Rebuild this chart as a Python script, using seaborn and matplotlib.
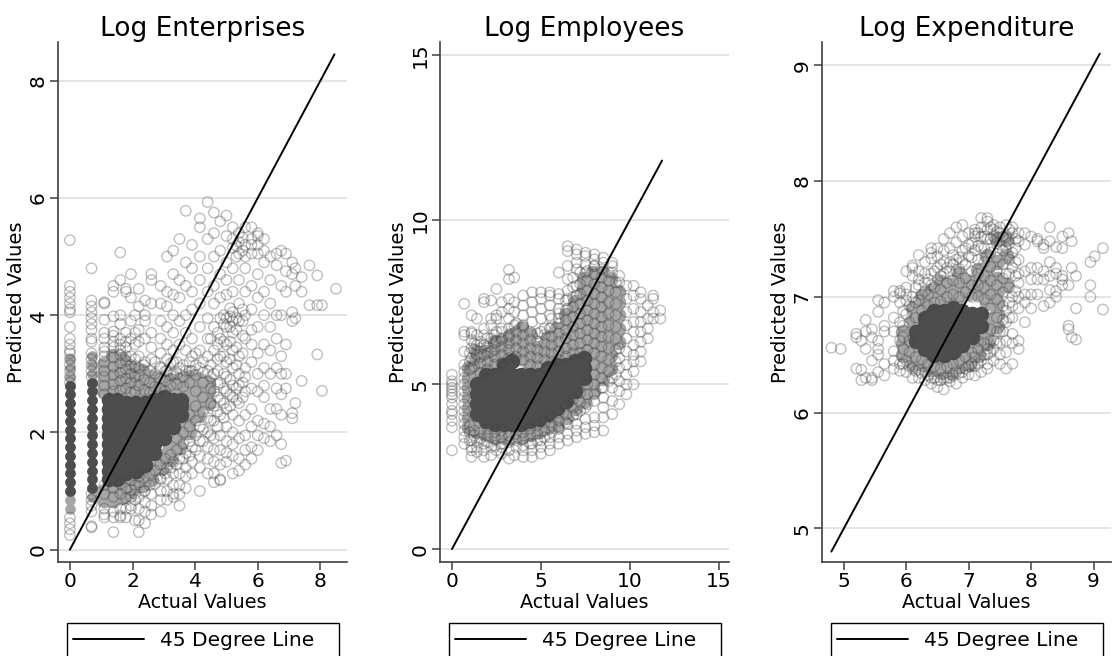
import matplotlib
matplotlib.use("Agg")
import matplotlib.pyplot as plt
from matplotlib.patches import Rectangle
import pandas as pd
import seaborn as sns

sns.set_style("white")
plt.rcParams['font.family'] = ['DejaVu Sans']
plt.rcParams['text.color'] = 'black'
plt.rcParams['axes.labelcolor'] = 'black'

titles = ["Log Enterprises", "Log Employees", "Log Expenditure"]
line_ends = [(0.0, 8.45), (0.0, 11.8), (4.8, 9.1)]
x_ticks = [[0, 2, 4, 6, 8], [0, 5, 10, 15], [5, 6, 7, 8, 9]]
y_ticks = [[0, 2, 4, 6, 8], [0, 5, 10, 15], [5, 6, 7, 8, 9]]

# Values: (actual value, [predicted values])
ent_strip_core = [
 (0.0,[1.0,1.15,1.3,1.45,1.6,1.75,1.9,2.05,2.2,2.35,2.5,2.65,2.8]),
 (.69,[1.05,1.2,1.35,1.5,1.65,1.8,1.95,2.1,2.25,2.4,2.55,2.7,2.85]),
]
ent_strip_halo = [
 (0.0,[.7,.85,1.0,2.8,2.95,3.1,3.25]),(.69,[.9,1.05,2.85,3.0,3.15,3.3]),
]
ent_core = [
 (1.25,[1.2,1.35,1.5,1.65,1.8,1.95,2.1,2.25,2.4,2.55]),
 (1.5,[1.2,1.35,1.5,1.65,1.8,1.95,2.1,2.25,2.4,2.55]),
 (1.8,[1.3,1.45,1.6,1.75,1.9,2.05,2.2,2.35,2.5]),
 (2.1,[1.35,1.5,1.65,1.8,1.95,2.1,2.25,2.4,2.5]),
 (2.4,[1.45,1.6,1.75,1.9,2.05,2.2,2.35,2.5]),
 (2.7,[1.65,1.8,1.95,2.1,2.25,2.4,2.55]),
 (3.0,[1.9,2.05,2.2,2.35,2.5,2.6]),
 (3.3,[2.1,2.25,2.4,2.55]),
 (3.55,[2.3,2.45,2.55]),
]
ent_halo = [
 (1.1,[.85,1.0,2.7,2.85,3.0,3.15]),(1.39,[.85,1.0,2.7,2.9,3.1,3.3]),
 (1.65,[.9,1.05,2.7,2.9,3.1,3.25]),(1.95,[1.0,1.15,2.7,2.9,3.1]),
 (2.3,[1.1,1.25,2.7,2.9,3.05]),(2.6,[1.2,1.4,2.75,2.95]),
 (2.9,[1.4,1.6,2.7,2.9]),(3.2,[1.55,1.75,2.75,2.9]),(3.5,[1.75,1.95,2.15,2.75,2.9]),
 (3.8,[2.0,2.2,2.4,2.6,2.8,2.95]),(4.1,[2.3,2.5,2.7,2.9]),
 (4.4,[2.5,2.7,2.85]),
]
ent_open = [
 (0.0,[.25,.35,.45,.55,2.85,2.95,3.05,3.15,3.25,3.35,3.4,3.5,3.6,3.8,4.05,4.1,4.2,4.3,4.4,4.5,5.28]),
 (.69,[.38,.4,.65,.75,.85,.95,2.95,3.05,3.15,3.25,3.35,3.55,3.6,3.75,3.85,3.95,4.05,4.15,4.25,4.8]),
 (1.1,[.55,.6,.7,3.3,3.45,3.6,3.7,3.92,4.2,4.22]),(1.39,[.3,.55,.65,3.45,3.65,3.72,3.98,4.4,4.5]),
 (1.61,[.55,.58,.7,3.4,3.6,3.85,4.0,4.6,5.07]),(1.79,[.55,.7,3.3,3.45,3.7,4.4,4.45]),
 (1.95,[.75,.7,.9,3.3,3.6,3.9,4.3,4.7]),(2.08,[.5,.95,3.25,3.5,4.0,3.7]),(2.2,[.3,.5,.7,.9,3.3,3.55,4.15,4.45,3.75]),
 (2.4,[.45,.65,.8,1.0,3.2,3.6,3.9,4.25,4.0]),(2.6,[.6,.75,.95,3.25,3.45,3.7,4.2,4.6,4.7]),
 (2.9,[.65,.85,1.0,1.2,3.1,3.35,3.6,3.9,4.2,4.5]),(3.1,[.85,1.0,1.2,1.4,3.05,3.25,3.5,3.8,4.15,4.4,5.0]),
 (3.3,[.9,.95,1.1,1.3,1.5,3.0,3.2,3.4,3.7,4.0,4.35,4.7,5.1]),(3.5,[.75,.95,1.1,1.3,1.55,3.1,3.5,3.9,4.3,4.6,5.3]),
 (3.7,[1.05,1.25,1.4,1.65,3.05,3.4,3.7,4.0,4.5,4.9,5.78]),(3.9,[1.3,1.5,1.75,3.05,3.3,3.6,4.1,4.4,4.8,5.2]),
 (4.15,[1.0,1.4,1.6,1.85,2.1,3.1,3.4,3.8,4.2,4.6,5.0,5.5,5.65]),(4.4,[1.3,1.55,1.75,2.0,2.25,3.05,3.3,3.6,3.95,4.4,4.8,5.3,5.93]),
 (4.6,[1.15,1.3,1.5,1.7,1.9,2.2,2.45,2.7,3.0,3.4,3.8,4.2,4.5,5.0,5.4,5.75]),(4.8,[1.2,1.18,1.45,1.7,1.95,2.3,2.55,2.85,3.3,3.6,3.95,4.3,4.7,5.1,5.6]),
 (5.0,[1.5,1.65,1.85,2.1,2.4,2.7,2.95,3.2,3.5,3.8,3.95,4.35,4.6,4.9,5.35,5.7]),(5.2,[1.3,1.6,1.8,2.0,2.3,2.6,2.8,3.1,3.4,3.7,3.9,4.05,4.4,4.8,5.15,5.3,5.5]),
 (5.4,[1.35,1.55,1.9,2.2,2.5,2.8,3.0,3.3,3.9,4.2,4.6,5.05,5.25,5.4]),(5.6,[1.45,1.7,1.95,2.3,2.7,2.95,3.1,3.6,4.0,4.4,4.8,5.0,5.2,5.5]),
 (5.8,[1.55,1.75,2.1,2.4,2.75,3.2,3.5,3.75,4.1,4.5,5.05,5.2,5.3,5.5]),(6.0,[1.7,1.95,2.2,2.7,3.0,3.35,3.8,4.3,4.7,5.05,5.2,5.35,5.4]),
 (6.2,[1.9,2.15,2.6,2.8,3.1,3.5,4.0,4.4,4.9,5.1,5.3]),(6.4,[1.85,2.1,2.4,3.0,3.4,3.8,4.2,4.6,5.0]),
 (6.6,[1.95,2.4,2.75,3.1,3.6,4.0,4.85,5.05]),(6.75,[1.48,1.8,2.3,2.65,3.0,3.3,4.0,4.5,5.1]),
 (6.9,[1.52,2.75,3.0,3.5,4.4,4.75,5.05]),(7.1,[2.24,2.33,3.9,4.05,4.9,4.7]),(7.2,[2.5,3.95,4.5,4.8]),
 (7.4,[2.88,4.4,4.65]),(7.65,[4.17,4.85]),(7.9,[3.33,4.17,4.68]),(8.05,[2.71,4.17]),(8.5,[4.45]),
 (1.1,[.95,1.1,2.65,2.8,2.95,3.05,3.2,3.38]),(1.39,[.9,1.05,2.7,2.82,2.98,3.12,3.28,3.55]),
 (1.61,[.95,1.12,2.72,2.88,3.02,3.18,3.32,3.5]),(1.79,[.88,1.05,2.75,2.92,3.08,3.22,3.55]),
 (1.95,[1.02,1.18,2.68,2.85,3.0,3.15]),(2.08,[.85,1.1,2.7,2.95,3.12]),(2.2,[1.15,1.25,2.8,2.98,3.1]),
 (2.37,[1.0,1.22,2.72,2.9,3.15]),(2.55,[1.1,1.3,2.68,2.85,3.05]),(2.72,[1.12,1.35,2.78,3.0,3.2]),
 (2.88,[1.22,1.45,2.75,2.92,3.12]),(3.05,[1.3,1.55,2.7,2.88,3.05]),(3.22,[1.4,1.62,2.8,2.98,3.18]),
 (3.42,[1.45,1.7,1.9,2.82,3.0,3.2]),(3.62,[1.55,1.8,2.0,2.78,2.95,3.15]),(3.82,[1.6,1.85,2.1,2.3,2.85,3.05,3.2]),
 (4.02,[1.7,1.95,2.2,2.45,2.7,2.98,3.15,3.35]),(4.25,[1.85,2.05,2.35,2.6,2.85,3.02,3.2]),
 (4.5,[1.95,2.2,2.5,2.75,2.95,3.15,3.6]),(4.72,[2.1,2.35,2.6,2.82,3.05,3.25,3.5,3.7]),
 (4.92,[2.25,2.5,2.75,3.0,3.3,3.55,3.85,4.0]),(5.12,[2.45,2.65,2.9,3.25,3.55,3.8,3.98,4.12]),
 (5.32,[2.55,2.75,3.15,3.45,3.75,3.95,5.0,5.18]),(5.52,[2.6,2.85,3.35,3.65,3.9,4.1,5.1,5.32]),
]

emp_core = [
 (1.4,[4.1,4.4,4.7,5.0]),(1.9,[3.9,4.2,4.5,4.8,5.1,5.3]),(2.4,[3.8,4.1,4.4,4.7,5.0,5.3]),
 (2.9,[3.8,4.1,4.4,4.7,5.0,5.3,5.6]),(3.4,[3.8,4.1,4.4,4.7,5.0,5.3,5.7]),(3.9,[3.8,4.1,4.4,4.7,5.0,5.3]),
 (4.4,[3.9,4.2,4.5,4.8,5.1,5.3]),(4.9,[3.95,4.25,4.55,4.85,5.15,5.3]),(5.4,[4.1,4.4,4.7,5.0,5.3,5.5]),
 (5.9,[4.3,4.6,4.9,5.2,5.5,5.6]),(6.4,[4.5,4.8,5.1,5.4,5.6]),(6.9,[4.8,5.1,5.4,5.7]),(7.4,[5.2,5.5,5.8]),
]
emp_halo = [
 (.95,[3.7,4.0,4.3,4.6,4.9,5.2,5.5]),(1.4,[3.6,3.9,5.4,5.7,6.0]),(1.9,[3.5,3.8,5.5,5.8,6.0]),(2.4,[3.4,3.6,5.7,6.0,6.3]),
 (2.9,[3.4,3.6,5.8,6.1,6.3]),(3.4,[3.4,3.6,6.0,6.3,6.5]),(3.9,[3.4,3.6,5.8,6.1,6.4,6.7]),(4.4,[3.5,3.7,5.6,5.9,6.2,6.5]),
 (4.9,[3.6,3.8,5.6,5.9,6.1]),(5.4,[3.7,3.9,5.8,6.1,6.4]),(5.9,[3.8,4.1,5.8,6.1,6.4,6.7]),(6.4,[4.0,4.3,5.9,6.2,6.5,6.8,7.1]),
 (6.9,[4.3,4.6,6.0,6.3,6.6,6.9,7.2,7.5]),(7.4,[4.5,4.8,5.1,6.1,6.4,6.7,7.0,7.3,7.6,7.9,8.2]),
 (7.9,[4.8,5.1,5.4,5.7,6.0,6.3,6.6,6.9,7.2,7.5,7.8,8.1,8.4]),(8.4,[5.2,5.5,5.8,6.1,6.4,6.7,7.0,7.3,7.6,7.9,8.2,8.4]),
 (8.9,[5.5,5.9,6.3,6.7,7.1,7.5,7.9,8.2]),(9.3,[6.3,6.7,7.1,7.5,7.8]),
]
emp_open = [
 (0.0,[3.0,3.7,3.9,4.1,4.2,4.4,4.6,4.7,4.8,4.9,5.0,5.1,5.3]),
 (.69,[3.2,3.4,3.6,3.8,4.0,4.2,4.4,4.6,4.8,5.0,5.2,5.4,5.6,6.0,6.6,6.5,7.45]),
 (1.1,[2.8,3.0,3.1,3.3,5.5,5.8,6.1,6.35,6.55,6.6,7.1]),(1.4,[2.95,3.1,3.3,5.9,6.2,6.5,7.0]),
 (1.8,[2.8,3.0,3.2,5.9,6.2,6.5,6.7,7.5,7.6]),(2.2,[2.85,3.1,6.0,6.4,6.8,7.0,7.55]),(2.5,[3.0,6.3,6.6,7.1,7.9,7.0]),
 (2.8,[2.9,3.1,6.4,6.7,7.2,7.5]),(3.2,[2.75,3.0,6.5,7.0,7.3,7.6,8.2,8.48]),(3.5,[2.85,6.8,7.2,7.5,8.25]),
 (4.0,[2.8,3.0,6.8,7.1,7.4,7.7]),(4.5,[2.8,3.0,3.2,6.9,7.2,7.5,7.8]),(5.0,[2.9,3.1,3.3,6.6,7.0,7.3,7.6,7.8]),
 (5.5,[3.0,3.2,3.4,6.7,7.1,7.4,7.7,7.8]),(6.0,[3.2,3.4,3.7,7.0,7.3,7.6,7.75,8.4]),(6.5,[3.3,3.5,3.8,7.3,7.6,7.85,8.2,8.6,9.05,9.2]),
 (7.0,[3.4,3.6,3.8,4.1,7.7,8.0,8.5,8.7,8.95,9.1]),(7.5,[3.5,3.7,3.95,4.3,8.4,8.65,8.9,9.0]),(8.0,[3.55,3.75,4.0,4.5,8.6,8.8,8.95]),
 (8.5,[3.6,4.0,4.3,4.6,4.9,8.7,8.85]),(9.0,[4.1,4.5,4.9,5.2,8.4,8.6,8.7]),(9.4,[4.4,4.8,5.1,5.5,5.8,6.1,8.1,8.3]),
 (9.8,[4.7,5.0,5.3,5.6,6.0,6.4,6.8,7.2,7.6,8.0]),(10.2,[5.0,5.4,5.7,5.9,6.2,6.6,6.9,7.3,7.7,8.0]),
 (10.6,[5.7,6.0,6.3,6.6,6.9,7.2,7.6,7.8]),(11.0,[6.4,6.7,7.0,7.4]),(11.3,[7.0,7.2,7.6,7.7]),(11.7,[7.0,7.25]),
 (1.0,[3.3,3.55,3.75,5.45,5.7,5.95]),(1.25,[3.45,3.6,5.55,5.75,6.05,6.25]),(1.6,[3.35,3.55,5.35,5.65,5.85,6.1,6.3]),
 (2.0,[3.25,3.45,3.65,5.45,5.7,5.95,6.15,6.4]),(2.4,[3.15,3.35,3.55,5.6,5.85,6.05,6.25,6.5]),
 (2.8,[3.2,3.4,3.6,5.65,5.9,6.15,6.35,6.6]),(3.2,[3.25,3.45,5.8,6.05,6.25,6.45,6.7]),
 (3.6,[3.1,3.3,3.5,5.85,6.1,6.35,6.6,6.85]),(4.0,[3.15,3.35,3.55,5.75,6.0,6.25,6.5,6.75]),
 (4.4,[3.2,3.45,3.65,5.6,5.85,6.1,6.35,6.6]),(4.8,[3.3,3.5,3.75,5.55,5.8,6.05,6.3,6.55]),
 (5.2,[3.4,3.6,3.85,5.75,6.0,6.25,6.5,6.7]),(5.6,[3.55,3.75,4.0,5.7,5.95,6.2,6.45,6.75,7.0]),
 (6.0,[3.65,3.9,4.15,5.75,6.0,6.3,6.55,6.85,7.15]),(6.4,[3.85,4.1,4.35,5.85,6.1,6.4,6.65,6.95,7.25,7.55]),
 (6.8,[4.05,4.3,4.55,5.95,6.2,6.5,6.75,7.05,7.35,7.65,7.95,8.25]),(7.2,[4.2,4.45,4.75,5.95,6.25,6.55,6.85,7.15,7.45,7.75,8.05,8.4]),
 (7.6,[4.4,4.7,5.0,6.05,6.35,6.65,6.95,7.25,7.55,7.85,8.15,8.45]),(8.0,[4.7,5.0,5.3,5.6,5.95,6.25,6.55,6.85,7.15,7.45,7.75,8.05,8.35,8.6]),
 (8.4,[4.9,5.2,5.5,5.85,6.15,6.45,6.75,7.05,7.35,7.65,7.95,8.25,8.5]),(8.8,[5.1,5.4,5.75,6.1,6.45,6.8,7.15,7.5,7.85,8.15,8.4]),
 (9.2,[5.3,5.7,6.05,6.4,6.75,7.1,7.45,7.8,8.1]),
]

exp_core = [
 (6.15,[6.62,6.7]),(6.3,[6.55,6.65,6.75,6.82]),(6.45,[6.5,6.6,6.7,6.8,6.88]),(6.6,[6.5,6.6,6.7,6.8,6.88]),
 (6.75,[6.52,6.62,6.72,6.82,6.9]),(6.9,[6.58,6.68,6.78,6.88]),(7.05,[6.65,6.75,6.85]),
 (7.2,[6.75,6.85]),
]
exp_halo = [
 (5.95,[6.5,6.6,6.7]),(6.1,[6.42,6.5,6.6,6.8,6.9]),(6.25,[6.42,6.5,6.9,7.0]),(6.4,[6.38,6.46,6.95,7.05]),
 (6.55,[6.35,6.45,6.93,7.03,7.13]),(6.7,[6.35,6.45,7.0,7.1]),(6.85,[6.4,6.5,7.0,7.1,7.2]),(7.0,[6.42,6.52,6.6,7.03,7.13]),
 (7.15,[6.5,6.6,6.7,7.03,7.13,7.23]),(7.3,[6.6,6.7,6.8,6.95,7.05,7.15,7.25,7.35]),
 (7.45,[6.75,6.85,6.95,7.05,7.15,7.3,7.5]),(7.6,[7.1,7.35,7.5]),
]
exp_open = [
 (4.8,[6.56]),(4.95,[6.55]),(5.2,[6.65,6.68,6.38]),(5.28,[6.62,6.37,6.28]),(5.35,[6.8,6.3,6.55,6.7]),
 (5.45,[6.3,6.45,6.65,6.72,6.28]),(5.55,[6.35,6.5,6.55,6.62,6.97,6.87]),(5.65,[6.32,6.42,6.7,6.75,6.95]),
 (5.8,[6.38,6.45,6.53,6.7,6.82,7.05,7.0]),(5.9,[6.36,6.42,6.62,6.78,6.95,7.03,7.05]),(6.0,[6.35,6.45,6.85,6.97,7.02,7.08,7.22]),
 (6.1,[6.3,6.38,7.0,7.18,7.27,7.25]),(6.2,[6.3,6.37,6.97,7.1,7.15,7.22,7.36]),(6.3,[6.28,6.35,7.05,7.12,7.2,7.3]),
 (6.4,[6.25,6.3,7.1,7.2,7.33,7.38,7.42]),(6.5,[6.22,6.28,7.15,7.25,7.35,7.42]),(6.6,[6.2,6.3,7.2,7.3,7.4,7.5]),
 (6.7,[6.27,6.3,7.22,7.3,7.42,7.55]),(6.8,[6.25,6.35,7.22,7.32,7.47,7.6]),(6.9,[6.3,6.35,7.3,7.4,7.52,7.62]),
 (7.0,[6.33,6.4,7.35,7.45,7.55]),(7.1,[6.32,6.4,6.48,7.4,7.52,7.55,7.58]),(7.2,[6.35,6.45,7.42,7.52,7.6,7.68]),
 (7.3,[6.38,6.42,6.5,6.55,7.5,7.58,7.65,7.68]),(7.4,[6.45,6.55,6.62,7.52,7.58,7.62]),(7.5,[6.42,6.5,6.6,6.7,7.45,7.55,7.6]),
 (7.6,[6.38,6.52,6.62,6.78,6.88,7.2,7.42,7.52,7.62]),(7.7,[6.42,6.6,6.68,6.82,6.92,7.0,7.25,7.38,7.55,7.6]),
 (7.8,[6.55,6.62,6.9,7.0,7.12,7.2,7.32,7.48,7.55]),(7.9,[6.78,6.95,7.02,7.22,7.45,7.55]),(8.0,[6.9,7.02,7.15,7.25,7.52]),
 (8.1,[7.02,7.15,7.25,7.5,7.48]),(8.2,[6.92,7.15,7.22,7.45,7.42]),(8.3,[6.95,7.06,7.18,7.48,7.6,7.3]),
 (8.4,[7.0,7.05,7.25,7.2,7.43]),(8.5,[7.1,7.18,7.15,7.52,7.42]),(8.6,[6.72,6.75,7.1,7.55]),(8.65,[6.65,7.25,7.48]),
 (8.72,[6.63,6.9,7.18]),(8.95,[7.3,7.0,7.1]),(9.02,[7.35]),(9.15,[6.89,7.42]),
 (5.95,[6.42,6.55,6.65,6.75,6.88]),(6.05,[6.4,6.52,6.62,6.78,6.92]),(6.15,[6.36,6.48,6.82,6.95,7.08]),
 (6.25,[6.34,6.46,6.88,7.02]),(6.35,[6.32,6.42,6.92,7.02,7.15]),(6.45,[6.3,6.4,6.95,7.08,7.22]),
 (6.55,[6.28,6.38,6.96,7.06,7.18,7.28]),(6.65,[6.3,6.4,7.0,7.12,7.25]),(6.75,[6.32,6.42,7.02,7.14,7.28,7.36]),
 (6.85,[6.34,6.45,7.0,7.12,7.24,7.34]),(6.95,[6.38,6.48,7.04,7.16,7.28,7.42]),(7.05,[6.42,6.52,7.0,7.1,7.22,7.34,7.46]),
 (7.15,[6.42,6.55,6.62,7.0,7.1,7.2,7.32,7.44,7.55]),(7.25,[6.5,6.6,6.98,7.08,7.18,7.3,7.42,7.52]),
 (7.35,[6.52,6.62,6.72,6.9,7.02,7.14,7.26,7.38,7.5,7.6]),(7.45,[6.6,6.7,6.82,6.98,7.1,7.22,7.34,7.46,7.56]),
 (7.55,[6.7,6.8,6.92,7.04,7.16,7.28,7.4,7.52]),(7.65,[6.82,6.95,7.08,7.2,7.32,7.46,7.58]),(7.75,[7.05,7.18,7.3,7.42,7.5]),
]

def flat(rows):
    return pd.DataFrame([(x, y) for x, ys in rows for y in ys], columns=["actual", "predicted"])

panels = [(ent_core, ent_halo, ent_open, ent_strip_core, ent_strip_halo),
          (emp_core, emp_halo, emp_open, [], []),
          (exp_core, exp_halo, exp_open, [], [])]
boxes = [(58, 347), (440, 729), (822, 1111)]
xlims = [(-.38, 8.85), (-.67, 15.56), (4.65, 9.28)]
ylims = [(-.21, 8.66), (-.39, 15.4), (4.71, 9.2)]

W, H = 1115, 656
fig = plt.figure(figsize=(W / 100, H / 100), dpi=100, facecolor="white")
dark = "#4d4d4d"
mid = "#a6a6a6"
for i, (core, halo, opened, strip_core, strip_halo) in enumerate(panels):
    l, r = boxes[i]
    ax = fig.add_axes([l / W, (H - 562) / H, (r - l) / W, (562 - 42) / H])
    ax.set_axisbelow(True)
    ax.yaxis.grid(True, color="#e4e4e4", lw=1.4)
    ax.xaxis.grid(False)
    sns.scatterplot(data=flat(halo), x="actual", y="predicted", ax=ax, s=125, color=mid,
                    linewidth=0, zorder=2)
    sns.scatterplot(data=flat(core), x="actual", y="predicted", ax=ax, s=125, color=dark,
                    linewidth=0, zorder=3)
    if strip_core:
        sns.scatterplot(data=flat(strip_halo), x="actual", y="predicted", ax=ax, s=60, color=mid,
                        linewidth=0, zorder=2)
        sns.scatterplot(data=flat(strip_core), x="actual", y="predicted", ax=ax, s=60, color=dark,
                        linewidth=0, zorder=3)
    sns.scatterplot(data=flat(opened), x="actual", y="predicted", ax=ax, s=56, marker="o",
                    facecolors="none", edgecolor="#3f3f3f", linewidth=1.0, alpha=.33, zorder=4)
    a, b = line_ends[i]
    sns.lineplot(x=[a, b], y=[a, b], ax=ax, color="black", lw=1.4, zorder=5,
                 label="45 Degree Line", legend=False)
    ax.set_xlim(*xlims[i]); ax.set_ylim(*ylims[i])
    ax.set_xticks(x_ticks[i]); ax.set_yticks(y_ticks[i])
    ax.tick_params(axis="both", length=6, width=1.1, color="#404040", labelsize=14.5,
                   labelcolor="black", left=True, bottom=True, pad=1.5)
    for t in ax.get_yticklabels():
        t.set_rotation(90); t.set_va("center")
    for s in ("top", "right"):
        ax.spines[s].set_visible(False)
    for s in ("left", "bottom"):
        ax.spines[s].set_color("#404040"); ax.spines[s].set_linewidth(1.2)
    ax.set_title(titles[i], fontsize=19, pad=4, x=.5, color="black")
    ax.set_xlabel("Actual Values", fontsize=13.8, labelpad=1)
    ax.set_ylabel("Predicted Values", fontsize=14, labelpad=2)
    fig.add_artist(Rectangle(((l + 9) / W, -10 / H), 272 / W, (H - 623 + 10) / H,
                             transform=fig.transFigure, facecolor="white",
                             edgecolor="black", linewidth=1.0))
    leg = ax.legend(loc="upper left", bbox_to_anchor=((l + 15) / W, (H - 631) / H),
                    bbox_transform=fig.transFigure, frameon=False, fontsize=14.5,
                    handlelength=3.55, borderpad=0, borderaxespad=0, handletextpad=.75)
    leg.set_zorder(10)
    leg.set_figure(fig)
    ax.legend_ = None
    fig.add_artist(leg)
fig.savefig("out.png", dpi=100, facecolor="white")
